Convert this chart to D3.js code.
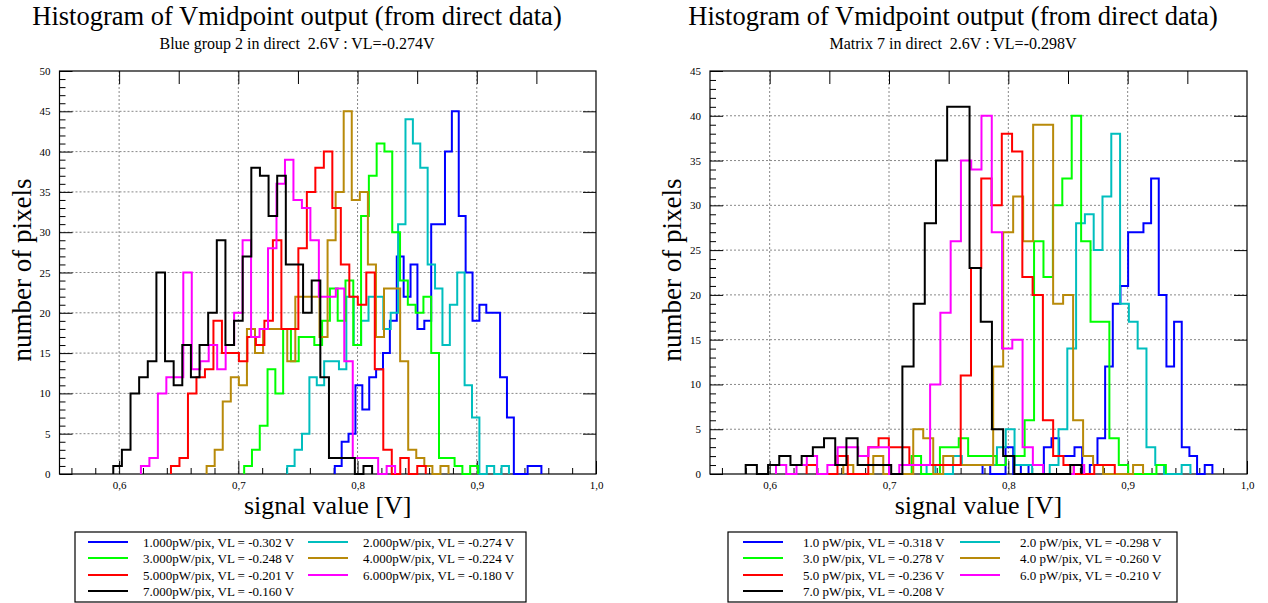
<!DOCTYPE html>
<html>
<head>
<meta charset="utf-8">
<script src="https://cdn.jsdelivr.net/npm/d3@7"></script>
<style>
  body { margin: 0; background: #fff; }
  svg text { font-family: "Liberation Serif", "Times New Roman", serif; }
</style>
</head>
<body>
<svg id="chart" width="1268" height="603"></svg>
<script>
// ---- shared ----
const xTickValues = [0.6, 0.7, 0.8, 0.9, 1.0];
const xTickLabels = ["0,6", "0,7", "0,8", "0,9", "1,0"];
const seriesColors = ["#0000ff", "#00bebe", "#00ff00", "#b88a0a", "#ff0000", "#ff00ff", "#000000"];

// ---- left panel data ----
const leftTitle = "Histogram of Vmidpoint output (from direct data)";
const leftSubtitle = "Blue group 2 in direct\u00a0 2.6V : VL=-0.274V";
const leftNames = [
  "1.000pW/pix, VL = -0.302 V", "2.000pW/pix, VL = -0.274 V",
  "3.000pW/pix, VL = -0.248 V", "4.000pW/pix, VL = -0.224 V",
  "5.000pW/pix, VL = -0.201 V", "6.000pW/pix, VL = -0.180 V",
  "7.000pW/pix, VL = -0.160 V"
];
// first and last bin edge of each histogram [V]
const leftRanges = [
  [0.7809, 0.9542], [0.7410, 0.9270], [0.7049, 0.9010], [0.6734, 0.8763],
  [0.6435, 0.8572], [0.6183, 0.8315], [0.5951, 0.8122]
];
const leftBlue  = [1,4,5,11,8,12,13,15,19,27,22,26,18,19,31,31,40,45,32,25,19,21,20,20,12,7,0,0,1,1];
const leftCyan  = [1,3,5,12,11,14,14,13,22,16,19,22,22,18,20,31,44,41,38,26,23,16,21,25,11,7,0,1,0,1];
const leftGreen = [1,3,6,13,10,18,14,17,17,16,19,23,19,24,16,32,37,41,40,30,24,21,20,22,15,2,2,1,0,1];
const leftGold  = [1,3,9,12,11,18,15,18,18,18,14,22,22,22,17,29,35,45,34,35,26,17,23,23,14,3,2,1,0,1];
const leftRed   = [1,2,10,12,13,19,15,15,14,17,16,19,29,18,18,28,35,38,40,33,26,22,21,25,13,3,0,2,0,1];
const leftPink  = [1,2,10,12,12,25,13,14,16,13,16,20,29,17,18,28,36,39,34,33,29,22,22,23,14,2,2,2,0,1];
const leftBlack = [1,3,10,12,14,25,14,11,16,12,16,20,29,16,19,27,38,37,32,37,26,26,20,24,12,2,2,2,0,1];

// ---- right panel data ----
const rightTitle = "Histogram of Vmidpoint output (from direct data)";
const rightSubtitle = "Matrix 7 in direct\u00a0 2.6V : VL=-0.298V";
const rightNames = [
  "1.0 pW/pix, VL = -0.318 V", "2.0 pW/pix, VL = -0.298 V",
  "3.0 pW/pix, VL = -0.278 V", "4.0 pW/pix, VL = -0.260 V",
  "5.0 pW/pix, VL = -0.236 V", "6.0 pW/pix, VL = -0.210 V",
  "7.0 pW/pix, VL = -0.208 V"
];
const rightRanges = [
  [0.7784, 0.9710], [0.7315, 0.9526], [0.7190, 0.9320], [0.6617, 0.9129],
  [0.6310, 0.8892], [0.6053, 0.8636], [0.5799, 0.8613]
];
const rightBlue  = [1,0,0,3,0,1,0,0,3,4,2,2,3,0,1,4,12,19,21,27,27,28,33,20,12,17,3,2,0,1];
const rightCyan  = [1,0,0,2,1,1,1,1,3,5,1,1,0,0,1,5,14,28,29,25,31,38,19,17,14,3,1,0,0,1];
const rightGreen = [2,0,0,3,3,4,2,2,2,1,2,2,6,26,22,30,33,40,26,17,17,4,1,0,0,0,1];
const rightGold  = [1,0,0,2,0,0,0,5,4,0,2,1,1,1,1,12,27,31,26,39,39,19,20,6,2,1,0,0,0,1];
const rightRed   = [1,0,0,2,0,0,3,4,3,3,1,1,1,1,1,11,23,33,30,38,36,22,20,6,2,1,0,0,1,1];
const rightPink  = [1,0,1,2,0,1,3,3,2,3,3,0,1,1,1,10,18,26,35,34,40,27,14,15,3,1,0,0,0,1];
const rightBlack = [1,0,1,2,1,2,3,4,1,4,1,1,1,0,12,19,28,35,41,41,23,17,5,2,0,0,0,0,0,1];

const svg = d3.select("#chart");
const serif = "Liberation Serif, Times New Roman, serif";

function drawPanel(p) {
  const top = 71, bottom = 474;
  const x = d3.scaleLinear().domain([0.55, 1.0]).range([p.left, p.right]);
  const y = d3.scaleLinear().domain([0, p.yMax]).range([bottom, top]);
  const g = svg.append("g");

  // dotted grid
  g.append("g")
    .selectAll("line")
    .data(xTickValues.filter((d) => d < 1.0))
    .join("line")
    .attr("x1", (d) => x(d)).attr("x2", (d) => x(d))
    .attr("y1", top).attr("y2", bottom)
    .attr("stroke", "#888").attr("stroke-dasharray", "2,2");
  g.append("g")
    .selectAll("line")
    .data(d3.range(5, p.yMax, 5))
    .join("line")
    .attr("x1", p.left).attr("x2", p.right)
    .attr("y1", (d) => y(d)).attr("y2", (d) => y(d))
    .attr("stroke", "#888").attr("stroke-dasharray", "2,2");

  const noDomain = (sel) => sel.select(".domain").remove();
  const serifLabels = (sel) => sel.attr("font-family", serif).selectAll("text").attr("font-size", 11);
  const minorY = d3.range(0, p.yMax + 1).filter((d) => d % 5 !== 0);
  const minorX = d3.range(0.56, 0.99, 0.02).filter((d) => Math.abs(d * 10 - Math.round(d * 10)) > 0.01);

  g.append("g").attr("transform", `translate(${p.left},0)`)
    .call(d3.axisLeft(y).tickValues(d3.range(0, p.yMax + 1, 5)).tickSize(-13).tickPadding(9).tickFormat(d3.format("d")))
    .call(noDomain)
    .call(serifLabels);
  g.append("g").attr("transform", `translate(${p.left},0)`)
    .call(d3.axisLeft(y).tickValues(minorY).tickSize(-6).tickFormat(""))
    .call(noDomain);
  g.append("g").attr("transform", `translate(${p.right},0)`)
    .call(d3.axisRight(y).tickValues(d3.range(5, p.yMax, 5)).tickSize(-13).tickFormat(""))
    .call(noDomain);
  g.append("g").attr("transform", `translate(0,${bottom})`)
    .call(d3.axisBottom(x).tickValues(xTickValues).tickSize(-13).tickPadding(7)
      .tickFormat((d, i) => xTickLabels[i]))
    .call(noDomain)
    .call(serifLabels);
  g.append("g").attr("transform", `translate(0,${bottom})`)
    .call(d3.axisBottom(x).tickValues(minorX).tickSize(-6).tickFormat(""))
    .call(noDomain);
  g.append("g").attr("transform", `translate(0,${top})`)
    .call(d3.axisTop(x).tickValues(d3.range(0.6, 0.99, 0.05)).tickSize(-13).tickFormat(""))
    .call(noDomain);

  // frame
  g.append("rect")
    .attr("x", p.left).attr("y", top)
    .attr("width", p.right - p.left).attr("height", bottom - top)
    .attr("fill", "none").attr("stroke", "#000").attr("stroke-width", 1.2);

  // step histograms
  const line = d3.line().x((d) => x(d[0])).y((d) => y(d[1])).curve(d3.curveStepAfter);
  p.counts.forEach((counts, k) => {
    const [lo, hi] = p.ranges[k];
    const w = (hi - lo) / counts.length;
    const pts = [[lo, 0]];
    counts.forEach((c, i) => pts.push([lo + i * w, c]));
    pts.push([hi, 0]);
    g.append("path")
      .attr("d", line(pts))
      .attr("fill", "none")
      .attr("stroke", seriesColors[k])
      .attr("stroke-width", 2)
      .attr("stroke-linejoin", "miter");
  });

  // titles
  g.append("text").attr("x", p.titleX).attr("y", 25).attr("text-anchor", "middle")
    .attr("font-size", 26.5).text(p.title);
  g.append("text").attr("x", p.titleX).attr("y", 49).attr("text-anchor", "middle")
    .attr("font-size", 16).text(p.subtitle);
  g.append("text").attr("x", (p.left + p.right) / 2).attr("y", 514).attr("text-anchor", "middle")
    .attr("font-size", 26).text("signal value [V]");
  g.append("text")
    .attr("transform", `translate(${p.left - 29},270) rotate(-90)`)
    .attr("text-anchor", "middle").attr("font-size", 27).text("number of pixels");

  // legend
  const lg = g.append("g");
  lg.append("rect").attr("x", p.legX).attr("y", 532).attr("width", p.legW).attr("height", 70)
    .attr("fill", "#fff").attr("stroke", "#000").attr("stroke-width", 1.2);
  const rowY = [542, 558, 575, 591];
  p.names.forEach((name, k) => {
    const col = k % 2, row = Math.floor(k / 2);
    const lx = p.legCols[col];
    lg.append("line").attr("x1", lx).attr("x2", lx + 40)
      .attr("y1", rowY[row]).attr("y2", rowY[row])
      .attr("stroke", seriesColors[k]).attr("stroke-width", 2);
    lg.append("text").attr("x", lx + p.legGap).attr("y", rowY[row] + 4.5)
      .attr("font-size", 13).text(name);
  });
}

drawPanel({
  left: 59.5, right: 596, yMax: 50, titleX: 297,
  title: leftTitle, subtitle: leftSubtitle, names: leftNames,
  ranges: leftRanges,
  counts: [leftBlue, leftCyan, leftGreen, leftGold, leftRed, leftPink, leftBlack],
  legX: 75, legW: 451, legCols: [88, 308], legGap: 55
});
drawPanel({
  left: 710, right: 1247, yMax: 45, titleX: 953,
  title: rightTitle, subtitle: rightSubtitle, names: rightNames,
  ranges: rightRanges,
  counts: [rightBlue, rightCyan, rightGreen, rightGold, rightRed, rightPink, rightBlack],
  legX: 728, legW: 449, legCols: [743, 960], legGap: 60
});
</script>
</body>
</html>
